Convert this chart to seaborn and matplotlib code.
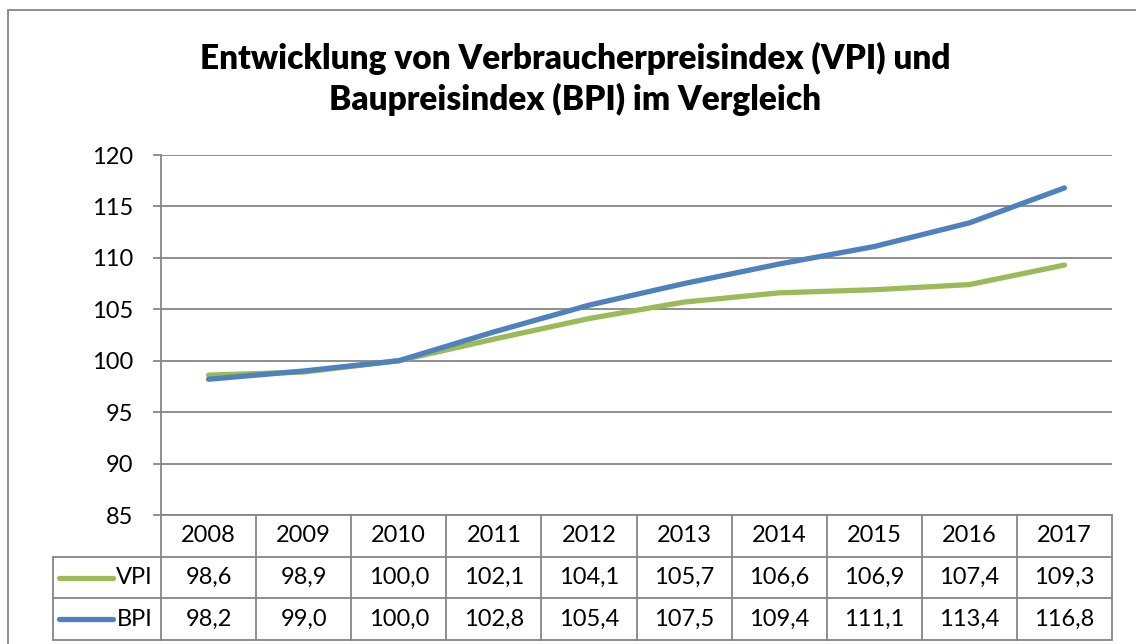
import numpy as np
import pandas as pd
import seaborn as sns
import matplotlib.pyplot as plt
from matplotlib.patches import Rectangle

# daten
jahre = ["2008", "2009", "2010", "2011", "2012", "2013", "2014", "2015", "2016", "2017"]
vpi = [98.6, 98.9, 100.0, 102.1, 104.1, 105.7, 106.6, 106.9, 107.4, 109.3]
bpi = [98.2, 99.0, 100.0, 102.8, 105.4, 107.5, 109.4, 111.1, 113.4, 116.8]
serien = ["VPI", "BPI"]
farben = {"VPI": "#9BBB59", "BPI": "#4F81BD"}
y_ticks = [85, 90, 95, 100, 105, 110, 115, 120]

df = pd.DataFrame({"pos": list(range(len(jahre))) * 2,
                   "Jahr": jahre * 2,
                   "Wert": vpi + bpi,
                   "Index": ["VPI"] * len(jahre) + ["BPI"] * len(jahre)})

sns.set_theme(style="white")
plt.rcParams["font.family"] = ["Lato", "DejaVu Sans"]
plt.rcParams["text.color"] = "black"
plt.rcParams["ytick.labelcolor"] = "black"

W, H = 1136, 644
fig = plt.figure(figsize=(W / 100, H / 100), dpi=100)

# plotbereich in pixeln
left, right, top, bottom = 161, 1112, 155, 515
ax = fig.add_axes([left / W, 1 - bottom / H, (right - left) / W, (bottom - top) / H])

sns.lineplot(data=df, x="pos", y="Wert", hue="Index", hue_order=serien,
             palette=farben, linewidth=3.8, legend=False, ax=ax,
             solid_capstyle="round")

grau = "#868686"
ax.set_xlim(-0.5, len(jahre) - 0.5)
ax.set_ylim(85, 120)
ax.set_yticks(y_ticks)
ax.set_yticklabels([str(t) for t in y_ticks], fontsize=17, color="black")
ax.set_xticks([])
ax.set_xlabel("")
ax.set_ylabel("")
for t in y_ticks:
    ax.axhline(t, color=grau, lw=1.3, zorder=0)
for s in ["top", "right", "bottom"]:
    ax.spines[s].set_visible(False)
ax.spines["left"].set_color(grau)
ax.spines["left"].set_linewidth(1.3)
ax.tick_params(axis="y", left=True, length=6, width=1.3, color=grau, pad=14)

# tabelle unter der achse
trans = ax.get_xaxis_transform()
px = 1 / (bottom - top)
col = (right - left) / len(jahre)
r0, r1, r2, r3 = 0, -42 * px, -83 * px, -125 * px
x_leg = -0.5 - (left - 53) / col
lk = dict(color=grau, lw=1.3, transform=trans, clip_on=False)

ax.plot([-0.5, 9.5], [r0, r0], **lk)
for y in [r1, r2, r3]:
    ax.plot([x_leg, 9.5], [y, y], **lk)
ax.plot([x_leg, x_leg], [r1, r3], **lk)
for i in range(len(jahre) + 1):
    ax.plot([i - 0.5, i - 0.5], [r0, r3], **lk)

fmt = lambda v: f"{v:.1f}".replace(".", ",")
for i, j in enumerate(jahre):
    ax.text(i, (r0 + r1) / 2, j, ha="center", va="center", fontsize=17,
            transform=trans, clip_on=False)
    ax.text(i, (r1 + r2) / 2, fmt(vpi[i]), ha="center", va="center",
            fontsize=17, transform=trans, clip_on=False)
    ax.text(i, (r2 + r3) / 2, fmt(bpi[i]), ha="center", va="center",
            fontsize=17, transform=trans, clip_on=False)

for name, (ya, yb) in zip(serien, [(r1, r2), (r2, r3)]):
    ym = (ya + yb) / 2
    ax.plot([x_leg + 6 / col, x_leg + 60 / col], [ym, ym], color=farben[name],
            lw=3.8, solid_capstyle="round", transform=trans, clip_on=False)
    ax.text(-0.5 - 8 / col, ym, name, ha="right", va="center", fontsize=17,
            transform=trans, clip_on=False)

# rahmen + titel
fig.patches.append(Rectangle((8 / W, -0.1), 1.2, 1 - 10 / H + 0.1, fill=False,
                             edgecolor=grau, lw=1.3, transform=fig.transFigure))
fig.text(575 / W, 1 - 79 / H,
         "Entwicklung von Verbraucherpreisindex (VPI) und\nBaupreisindex (BPI) im Vergleich",
         ha="center", va="center", fontsize=24, fontweight="heavy",
         linespacing=1.3, color="black")

fig.savefig("out.png", dpi=100)
